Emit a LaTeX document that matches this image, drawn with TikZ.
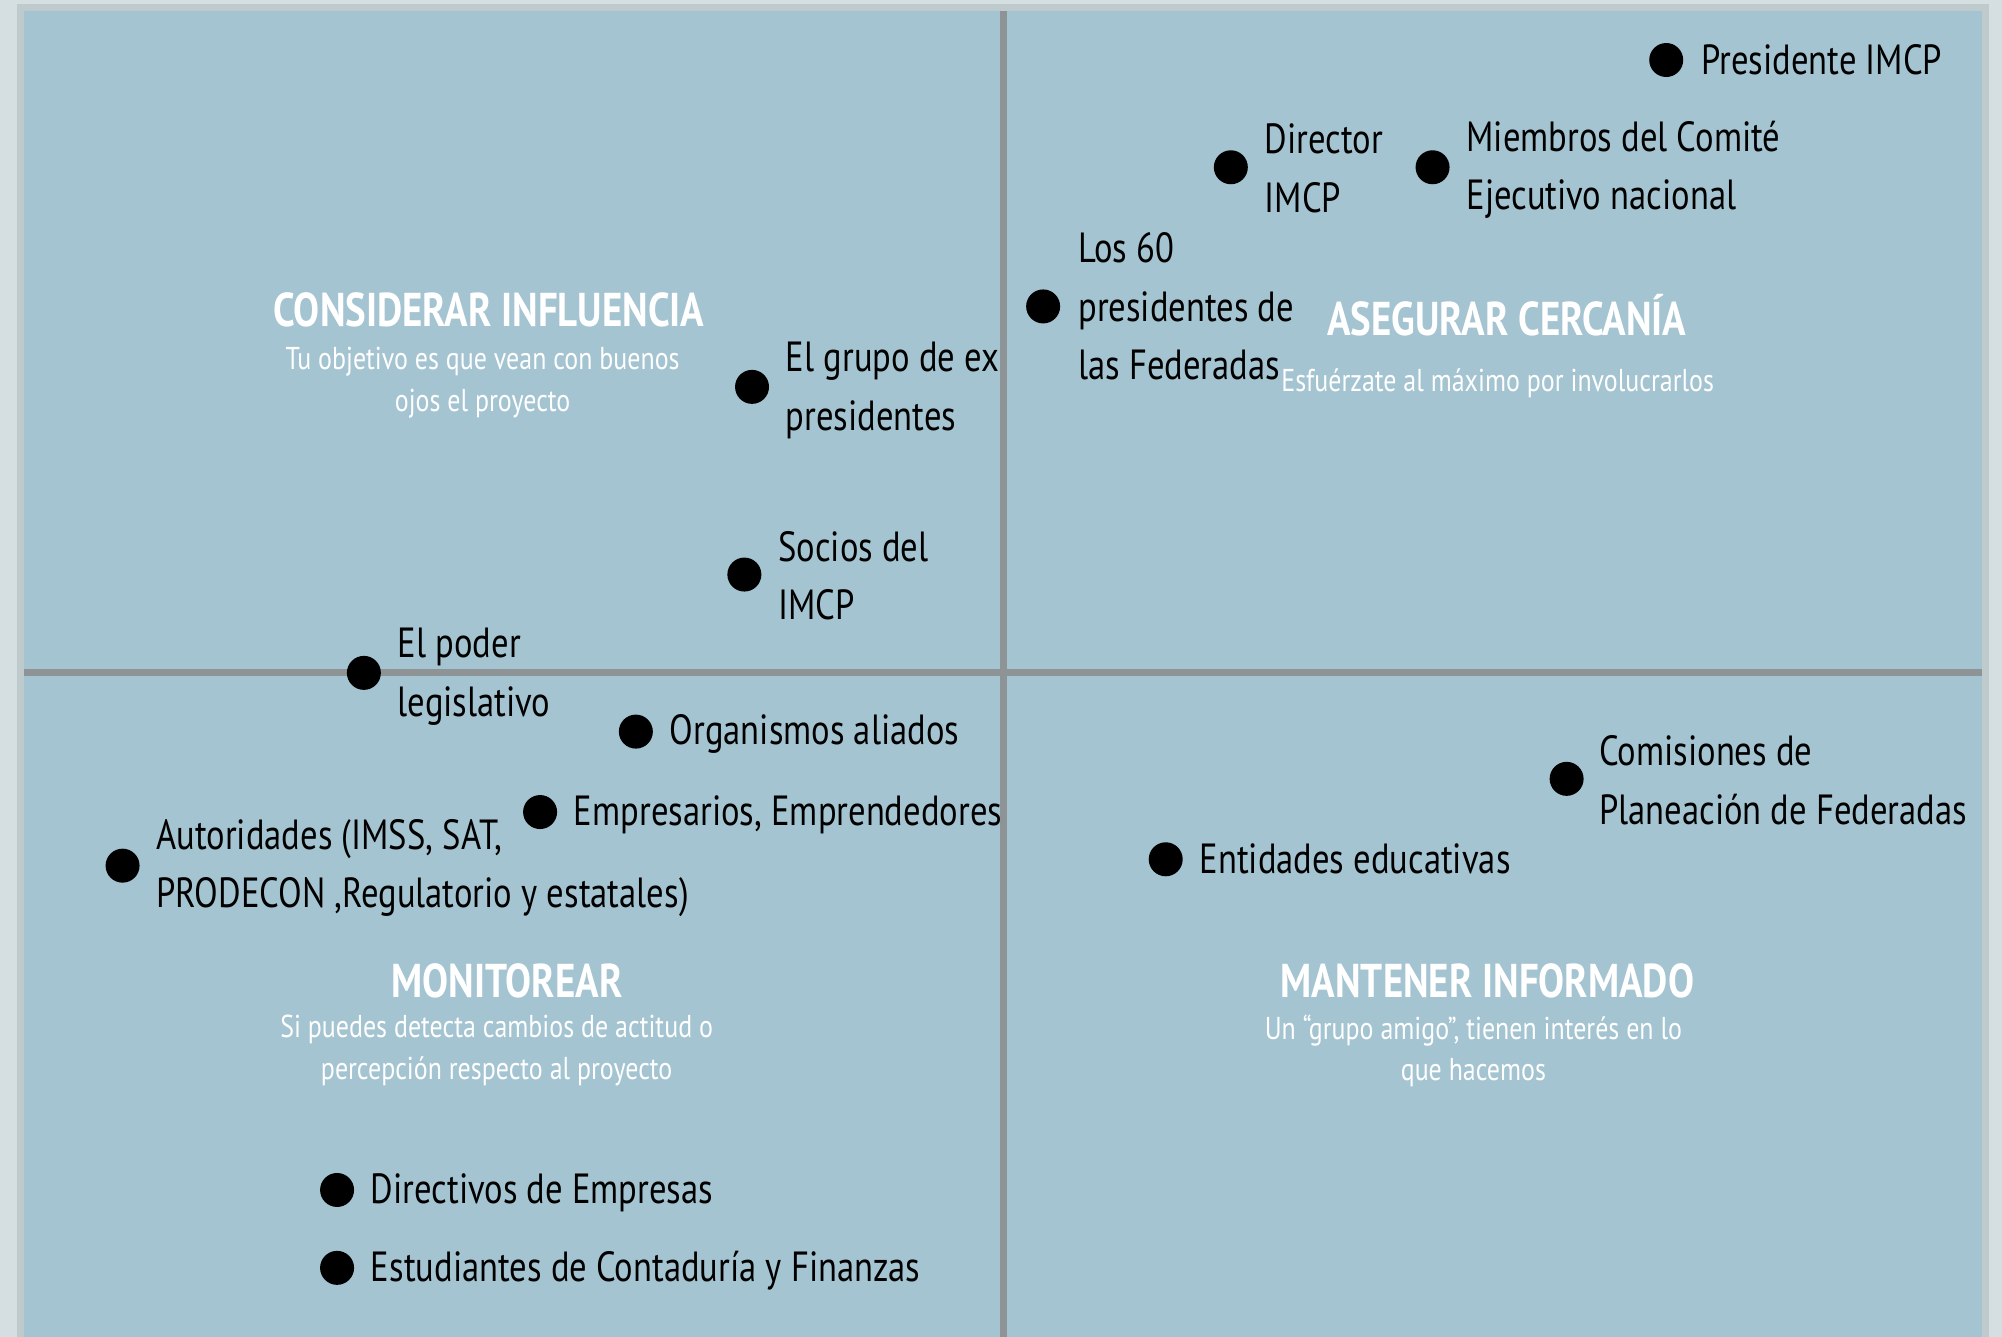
\documentclass[tikz,border=0pt]{standalone}
\usepackage{fontspec}
\setmainfont[FakeStretch=0.82]{PT Sans}
\definecolor{outergray}{HTML}{D5DEE1}
\definecolor{bordergray}{HTML}{BFCACD}
\definecolor{panelblue}{HTML}{A3C4D0}
\definecolor{divgray}{HTML}{8E9396}
\begin{document}
\begin{tikzpicture}[x=0.012768cm,y=-0.012768cm,
	dot/.style={circle,fill=black,inner sep=0pt,minimum size=0.34cm},
	lbl/.style={anchor=west,inner sep=0pt,align=left,font=\fontsize{12}{16.7}\selectfont},
	head/.style={inner sep=0pt,text=white,font=\fontsize{13.5}{15}\selectfont\bfseries},
	sub/.style={inner sep=0pt,text=white,align=center,font=\fontsize{9}{11.9}\selectfont}]
	\useasboundingbox (0,0) rectangle (1568,1047);
	\fill[outergray](0,0) rectangle (1568,1047);
	\fill[bordergray](13,3) rectangle (1558,1047);
	\fill[panelblue](19,9) rectangle (1552,1047);
	
	\draw[line width=2pt][divgray](786,9)--(786,1047);
	\draw[line width=2pt][divgray](19,527)--(1552,527);
	
	% headings
	\node[head] (hinf) at (383,243) {CONSIDERAR INFLUENCIA};
	\node[sub] (sinf) at (378,300) {Tu objetivo es que vean con buenos\\ojos el proyecto};
	\node[head] (hcer) at (1180,247) {ASEGURAR CERCANÍA};
	\node[sub] (scer) at (1173,300) {Esfuérzate al máximo por involucrarlos};
	\node[head] (hmon) at (397,768) {MONITOREAR};
	\node[sub] (smon) at (389,823) {Si puedes detecta cambios de actitud o\\percepción respecto al proyecto};
	\node[head] (hman) at (1165,768) {MANTENER INFORMADO};
	\node[sub] (sman) at (1154,823) {Un “grupo amigo”, tienen interés en lo\\que hacemos};
	
	% actores
	\node[dot] (pres) at (1305,47) {};
	\node[lbl] (presl) at (1332,47) {Presidente IMCP};
	\node[dot] (dir) at (964,131) {};
	\node[lbl] (dirl) at (990,132) {Director\\IMCP};
	\node[dot] (com) at (1122,131) {};
	\node[lbl] (coml) at (1148,133) {Miembros del Comité\\Ejecutivo nacional};
	\node[dot] (fed) at (817,240) {};
	\node[lbl] (fedl) at (844,240) {Los 60\\presidentes de\\las Federadas};
	\node[dot] (expr) at (589,303) {};
	\node[lbl] (exprl) at (615,306) {El grupo de ex\\presidentes};
	\node[dot] (soc) at (583,450) {};
	\node[lbl] (socl) at (609,451) {Socios del\\IMCP};
	\node[dot] (leg) at (285,527) {};
	\node[lbl] (legl) at (311,530) {El poder\\legislativo};
	\node[dot] (org) at (498,573) {};
	\node[lbl] (orgl) at (524,575) {Organismos aliados};
	\node[dot] (emp) at (423,636) {};
	\node[lbl] (empl) at (449,638) {Empresarios, Emprendedores};
	\node[dot] (aut) at (96,678) {};
	\node[lbl] (autl) at (122,680) {Autoridades (IMSS, SAT,\\PRODECON ,Regulatorio y estatales)};
	\node[dot] (edu) at (913,673) {};
	\node[lbl] (edul) at (939,673) {Entidades educativas};
	\node[dot] (pla) at (1227,610) {};
	\node[lbl] (plal) at (1252,611) {Comisiones de\\Planeación de Federadas};
	\node[dot] (dire) at (264,932) {};
	\node[lbl] (direl) at (290,934) {Directivos de Empresas};
	\node[dot] (est) at (264,993) {};
	\node[lbl] (estl) at (290,995) {Estudiantes de Contaduría y Finanzas};
\end{tikzpicture}
\end{document}
